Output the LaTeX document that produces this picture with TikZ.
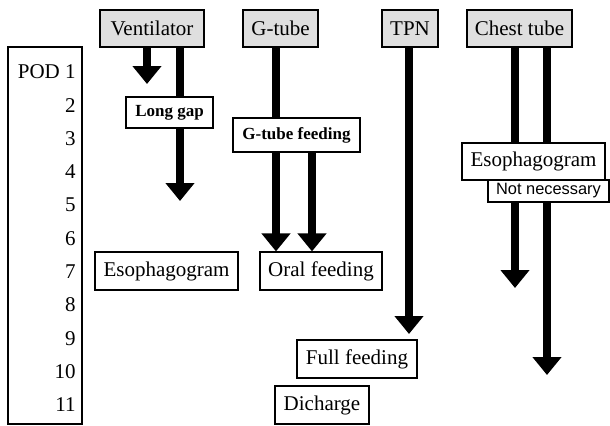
\documentclass[tikz,border=0pt]{standalone}
\usepackage{fontspec}
\setmainfont{Liberation Serif}
\newfontfamily\sansf{Liberation Sans}
\usetikzlibrary{arrows.meta}
\begin{document}
\begin{tikzpicture}[x=0.5pt,y=-0.5pt,
  bx/.style={draw, line width=0.6pt, fill=white, inner sep=0pt, font=\fontsize{10.5}{12}\selectfont},
  hd/.style={bx, fill=gray!25},
  small/.style={font=\fontsize{8.5}{10}\selectfont\bfseries},
  arr/.style={line width=4pt, -{Triangle[width=14pt,length=9pt]}},
  lbl/.style={anchor=east, inner sep=0pt, font=\fontsize{10.5}{12}\selectfont}]
\useasboundingbox (0,0) rectangle (610,425);
% headers
\node[hd, minimum width=52pt, minimum height=18.5pt] (vent) at (152,28.5) {Ventilator};
\node[hd, minimum width=37.5pt, minimum height=18.5pt] (gtube) at (280.5,28.5) {G-tube};
\node[hd, minimum width=28pt, minimum height=18.5pt] (tpn) at (410,28.5) {TPN};
\node[hd, minimum width=52.5pt, minimum height=18.5pt] (chest) at (519.5,28.5) {Chest tube};
% POD scale
\node[draw, line width=0.6pt, inner sep=0pt, minimum width=37pt, minimum height=188.5pt] (pod) at (45,235.5) {};
\foreach \t [count=\i] in {POD 1,2,3,4,5,6,7,8,9,10,11}
  \node[lbl] (p\i) at (76,{72+33.3*(\i-1)}) {\t};
% arrow tips
\coordinate (v1) at (147,84);
\coordinate (v2) at (180,201);
\coordinate (t1) at (409,334);
\coordinate (c1) at (515,288);
\coordinate (c2) at (547,375);
\coordinate (g1) at (276,0);
\coordinate (g2) at (312,0);
% lower boxes
\node[bx, minimum width=71.5pt, minimum height=19pt] (eso1) at (166.5,271) {Esophagogram};
\node[bx, minimum width=61pt, minimum height=19pt] (oral) at (321,271) {Oral feeding};
\node[bx, minimum width=60pt, minimum height=19pt] (full) at (357,359) {Full feeding};
\node[bx, minimum width=47pt, minimum height=19pt] (dis) at (322,405) {Dicharge};
% arrows
\draw[arr] (vent.south -| v1) -- (v1);
\draw[arr] (vent.south -| v2) -- (v2);
\draw[arr] (gtube.south -| g1) -- (oral.north -| g1);
\draw[arr] (tpn.south -| t1) -- (t1);
\draw[arr] (chest.south -| c1) -- (c1);
\draw[arr] (chest.south -| c2) -- (c2);
% boxes over arrows
\node[bx, small, minimum width=43.5pt, minimum height=15.5pt] (gap) at (169.5,112.5) {Long gap};
\node[bx, small, minimum width=63.5pt, minimum height=17pt] (gfeed) at (296.5,135) {G-tube feeding};
\draw[arr] (gfeed.south -| g2) -- (oral.north -| g2);
\node[bx, minimum width=71.5pt, minimum height=18.5pt] (eso2) at (533.5,161.5) {Esophagogram};
\node[bx, minimum width=60.5pt, minimum height=11pt, font=\sansf\fontsize{8.2}{10}\selectfont] (nn) at (548.5,191) {Not necessary};
\end{tikzpicture}
\end{document}
